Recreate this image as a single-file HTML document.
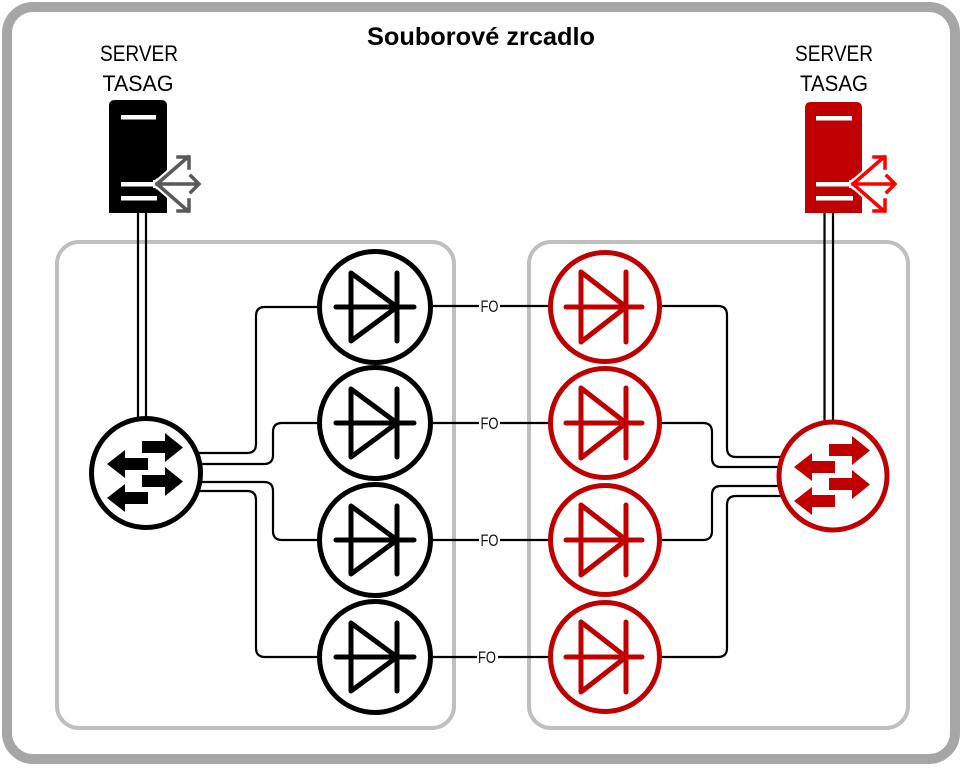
<!DOCTYPE html>
<html><head><meta charset="utf-8"><style>
html,body{margin:0;padding:0;background:#fff;}
svg{display:block;}
text{font-family:"Liberation Sans",sans-serif;}
</style></head><body>
<svg width="965" height="769" viewBox="0 0 965 769" xmlns="http://www.w3.org/2000/svg">
<rect x="0" y="0" width="965" height="769" fill="#fff"/>
<!-- outer frame -->
<rect x="7" y="7" width="948" height="752" rx="26" ry="26" fill="none" stroke="#a6a6a6" stroke-width="10"/>
<!-- inner boxes -->
<rect x="57" y="242" width="397" height="486" rx="22" ry="22" fill="none" stroke="#bfbfbf" stroke-width="4"/>
<rect x="529" y="242" width="379" height="486" rx="22" ry="22" fill="none" stroke="#bfbfbf" stroke-width="4"/>

<!-- title -->
<text x="481" y="45" font-size="25" font-weight="bold" text-anchor="middle" textLength="228" lengthAdjust="spacingAndGlyphs">Souborové zrcadlo</text>

<!-- server labels -->
<text x="139" y="61" font-size="22" text-anchor="middle" textLength="78" lengthAdjust="spacingAndGlyphs">SERVER</text>
<text x="138" y="91" font-size="22" text-anchor="middle" textLength="71" lengthAdjust="spacingAndGlyphs">TASAG</text>
<text x="834" y="61" font-size="22" text-anchor="middle" textLength="78" lengthAdjust="spacingAndGlyphs">SERVER</text>
<text x="834" y="91" font-size="22" text-anchor="middle" textLength="68" lengthAdjust="spacingAndGlyphs">TASAG</text>

<!-- cables server to switch -->
<g stroke="#000" stroke-width="2.2" fill="none">
<line x1="138" y1="210" x2="138" y2="422"/>
<line x1="146" y1="210" x2="146" y2="422"/>
<line x1="824.5" y1="210" x2="824.5" y2="424"/>
<line x1="833" y1="210" x2="833" y2="424"/>
</g>

<!-- left connectors -->
<g stroke="#000" stroke-width="2.2" fill="none">
<path d="M190,453 H247 Q256,453 256,444 V316 Q256,307 265,307 H320"/>
<path d="M190,464 H264 Q273,464 273,455 V432 Q273,423 282,423 H320"/>
<path d="M190,482 H264 Q273,482 273,491 V531 Q273,540 282,540 H320"/>
<path d="M190,491 H247 Q256,491 256,500 V648 Q256,657 265,657 H320"/>
<!-- red side connectors -->
<path d="M655,306 H718 Q727,306 727,315 V448 Q727,457 736,457 H790"/>
<path d="M655,423 H703 Q712,423 712,432 V458 Q712,467 721,467 H790"/>
<path d="M790,486 H721 Q712,486 712,495 V531 Q712,540 703,540 H655"/>
<path d="M790,496 H736 Q727,496 727,505 V648 Q727,657 718,657 H655"/>
<!-- FO lines -->
<line x1="430" y1="306" x2="552" y2="306"/>
<line x1="430" y1="423" x2="552" y2="423"/>
<line x1="430" y1="540" x2="552" y2="540"/>
<line x1="430" y1="657" x2="552" y2="657"/>
</g>

<!-- FO labels -->
<g font-size="17" fill="#111">
<rect x="479" y="297" width="21" height="18" fill="#fff"/>
<text x="489.5" y="312" text-anchor="middle" textLength="18" lengthAdjust="spacingAndGlyphs">FO</text>
<rect x="479" y="414" width="21" height="18" fill="#fff"/>
<text x="489.5" y="429" text-anchor="middle" textLength="18" lengthAdjust="spacingAndGlyphs">FO</text>
<rect x="479" y="531" width="21" height="18" fill="#fff"/>
<text x="489.5" y="546" text-anchor="middle" textLength="18" lengthAdjust="spacingAndGlyphs">FO</text>
<rect x="477" y="648" width="21" height="18" fill="#fff"/>
<text x="487" y="663" text-anchor="middle" textLength="18" lengthAdjust="spacingAndGlyphs">FO</text>
</g>

<!-- black diodes -->
<g stroke="#000" stroke-width="5" fill="#fff" stroke-linecap="round" stroke-linejoin="round">
<circle cx="375" cy="307" r="55.5"/>
<circle cx="375" cy="423" r="55.5"/>
<circle cx="375" cy="540" r="55.5"/>
<circle cx="375" cy="657" r="55.5"/>
</g>
<g stroke="#000" stroke-width="5" fill="none" stroke-linecap="round" stroke-linejoin="round">
<path d="M336,307 H414 M351,273 V341 L397,307 Z M397,273 V341"/>
<path d="M336,423 H414 M351,389 V457 L397,423 Z M397,389 V457"/>
<path d="M336,540 H414 M351,506 V574 L397,540 Z M397,506 V574"/>
<path d="M336,657 H414 M351,623 V691 L397,657 Z M397,623 V691"/>
</g>

<!-- red diodes -->
<g stroke="#c00000" stroke-width="5" fill="#fff" stroke-linecap="round" stroke-linejoin="round">
<circle cx="605" cy="307" r="54.5"/>
<circle cx="605" cy="423" r="54.5"/>
<circle cx="605" cy="540" r="54.5"/>
<circle cx="605" cy="657" r="54.5"/>
</g>
<g stroke="#c00000" stroke-width="5" fill="none" stroke-linecap="round" stroke-linejoin="round">
<path d="M566,307 H642 M581,272 V342 L626,307 Z M626,272 V342"/>
<path d="M566,423 H642 M581,388 V458 L626,423 Z M626,388 V458"/>
<path d="M566,540 H642 M581,505 V575 L626,540 Z M626,505 V575"/>
<path d="M566,657 H642 M581,622 V692 L626,657 Z M626,622 V692"/>
</g>

<!-- left switch -->
<circle cx="146" cy="473" r="54.5" fill="#fff" stroke="#000" stroke-width="5"/>
<g fill="#000">
<path d="M142,441 H165 V433 L183,447.5 L165,462 V453 H142 Z"/>
<path d="M142,475 H165 V467 L183,481.5 L165,496 V487 H142 Z"/>
<path d="M148,458 H125 V450 L107,464 L125,478 V470 H148 Z"/>
<path d="M148,492 H125 V484 L107,498 L125,512 V504 H148 Z"/>
</g>

<!-- red switch -->
<circle cx="833" cy="476" r="54" fill="#fff" stroke="#c00000" stroke-width="5"/>
<g fill="#c00000" transform="translate(687,3)">
<path d="M142,441 H165 V433 L183,447.5 L165,462 V453 H142 Z"/>
<path d="M142,475 H165 V467 L183,481.5 L165,496 V487 H142 Z"/>
<path d="M148,458 H125 V450 L107,464 L125,478 V470 H148 Z"/>
<path d="M148,492 H125 V484 L107,498 L125,512 V504 H148 Z"/>
</g>

<!-- black server -->
<path d="M109,213 V106 Q109,100 115,100 H161 Q167,100 167,106 V213 Z" fill="#000"/>
<g fill="#fff">
<rect x="121" y="115" width="35" height="4.5"/>
<rect x="121" y="182" width="36" height="4.5"/>
<rect x="121" y="196" width="36" height="4.5"/>
</g>
<g fill="none" stroke-linecap="square" stroke-linejoin="miter">
<path d="M157,184 L188,157 M157,184 L198,184 M157,184 L188,211 M178,157 H189 V168 M191,176 L199,184 L191,192 M178,211 H189 V200" stroke="#fff" stroke-width="8"/>
<path d="M157,184 L188,157 M157,184 L198,184 M157,184 L188,211 M178,157 H189 V168 M191,176 L199,184 L191,192 M178,211 H189 V200" stroke="#595959" stroke-width="3.5"/>
</g>

<!-- red server -->
<path d="M805,213 V108 Q805,102 811,102 H856 Q862,102 862,108 V213 Z" fill="#c00000"/>
<g fill="#fff">
<rect x="816" y="116" width="36" height="4.5"/>
<rect x="816" y="182" width="37" height="4.5"/>
<rect x="816" y="196" width="37" height="4.5"/>
</g>
<g fill="none" stroke-linecap="square" stroke-linejoin="miter" transform="translate(696,0)">
<path d="M157,184 L188,157 M157,184 L198,184 M157,184 L188,211 M178,157 H189 V168 M191,176 L199,184 L191,192 M178,211 H189 V200" stroke="#fff" stroke-width="8"/>
<path d="M157,184 L188,157 M157,184 L198,184 M157,184 L188,211 M178,157 H189 V168 M191,176 L199,184 L191,192 M178,211 H189 V200" stroke="#ff0000" stroke-width="3.5"/>
</g>
</svg>
</body></html>
